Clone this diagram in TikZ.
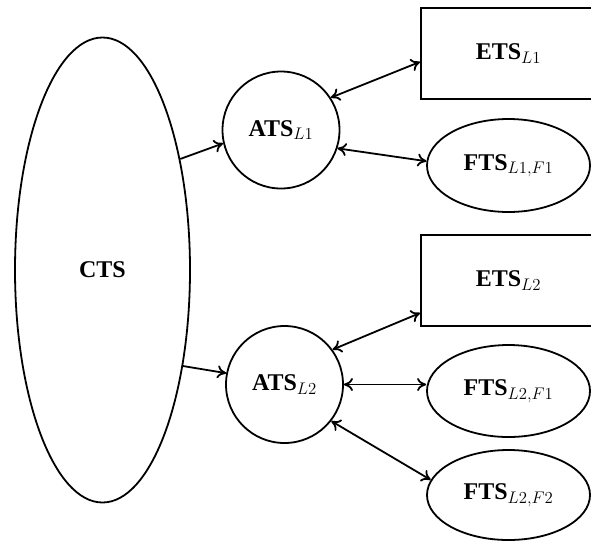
\documentclass[tikz,border=0pt]{standalone}
\usepackage{fix-cm}
\usepackage{fontspec}
\setmainfont{Liberation Serif}
\usetikzlibrary{shapes.geometric,arrows.meta,calc}
\begin{document}
\begin{tikzpicture}[x=1pt,y=-1pt,
  every node/.style={font=\fontsize{24}{28}\selectfont},
  ovalbox/.style={draw,ellipse,line width=1.8pt,inner sep=0pt},
  roundbox/.style={draw,circle,line width=1.8pt,minimum size=117pt,inner sep=0pt},
  rectbox/.style={draw,rectangle,line width=1.8pt,minimum width=175pt,minimum height=91pt,inner sep=0pt},
  link/.style={line width=1.8pt,-{To[length=9pt,width=13pt]}},
  twoway/.style={line width=1.8pt,{To[length=9pt,width=13pt]}-{To[length=9pt,width=13pt]}}]
\useasboundingbox (0,0) rectangle (591,542);
\clip (0,0) rectangle (591,542);

% central system
\node[ovalbox,minimum width=175pt,minimum height=465pt] (CTS) at (102.5,270) {\textbf{CTS}};

% the two L-level systems
\node[roundbox] (ATS1) at (281,130) {\textbf{ATS}$_{L1}$};
\node[roundbox] (ATS2) at (284.5,384.5) {\textbf{ATS}$_{L2}$};

% right column
\node[rectbox] (ETS1) at (508.5,53.5) {\textbf{ETS}$_{L1}$};
\node[ovalbox,minimum width=163pt,minimum height=93pt] (FTS11) at (508.5,165.5) {\textbf{FTS}$_{L1,F1}$};
\node[rectbox] (ETS2) at (508.5,280.5) {\textbf{ETS}$_{L2}$};
\node[ovalbox,minimum width=163pt,minimum height=92pt] (FTS21) at (508.5,391) {\textbf{FTS}$_{L2,F1}$};
\node[ovalbox,minimum width=163pt,minimum height=90pt] (FTS22) at (508.5,495) {\textbf{FTS}$_{L2,F2}$};

% connectors
\draw[link] (CTS.55) -- (ATS1.193);
\draw[link] (CTS.-50) -- (ATS2.169);
\draw[twoway] (ATS1.33) -- ($(ETS1.south west)!0.41!(ETS1.north west)$);
\draw[twoway] (ATS1.-18) -- (FTS11.177);
\draw[twoway] (ATS2.36) -- ($(ETS2.south west)!0.15!(ETS2.north west)$);
\draw[twoway] (ATS2.east) -- (ATS2.east -| FTS21.west);
\draw[twoway] (ATS2.-38) -- (FTS22.169);
\end{tikzpicture}
\end{document}
